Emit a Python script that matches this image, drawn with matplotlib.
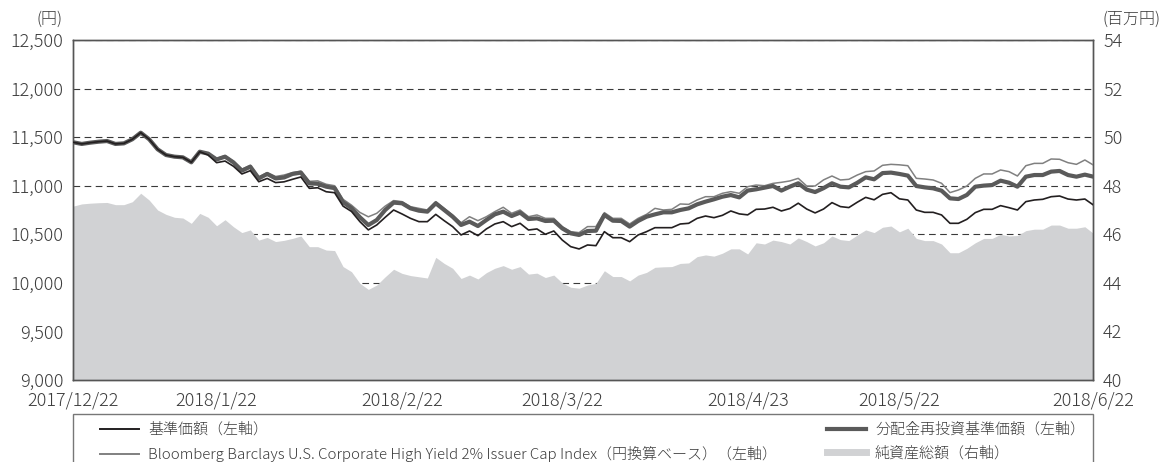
import numpy as np
import pandas as pd
import matplotlib
matplotlib.use("Agg")
import matplotlib.pyplot as plt
from matplotlib.lines import Line2D
from matplotlib.patches import Rectangle

plt.rcParams['font.family'] = ['Noto Sans CJK JP', 'DejaVu Sans']
plt.rcParams['font.weight'] = 'light'

# business days (Japan) from 2017/12/22 to 2018/6/22
jp_holidays = ['2018-01-01', '2018-01-02', '2018-01-03', '2018-01-08', '2018-02-12',
               '2018-03-21', '2018-04-30', '2018-05-03', '2018-05-04']
dates = pd.bdate_range('2017-12-22', '2018-06-22', freq='C', holidays=jp_holidays)
tick_dates = ['2017-12-22', '2018-01-22', '2018-02-22', '2018-03-22', '2018-04-23',
              '2018-05-22', '2018-06-22']

# 基準価額 (円)
nav = [11447, 11430, 11443, 11453, 11460, 11430, 11436, 11478, 11546, 11478,
       11375, 11316, 11299, 11292, 11241, 11350, 11316, 11237, 11254, 11200,
       11121, 11155, 11041, 11075, 11032, 11040, 11066, 11090, 10973, 10979,
       10938, 10928, 10790, 10735, 10630, 10545, 10596, 10675, 10750, 10709,
       10664, 10630, 10630, 10705, 10640, 10579, 10493, 10534, 10486, 10555,
       10606, 10630, 10579, 10613, 10544, 10555, 10500, 10534, 10441, 10373,
       10349, 10390, 10383, 10527, 10465, 10465, 10424, 10493, 10527, 10568,
       10568, 10568, 10606, 10613, 10664, 10688, 10671, 10695, 10740, 10710,
       10700, 10757, 10760, 10778, 10740, 10765, 10820, 10760, 10720, 10760,
       10826, 10785, 10775, 10830, 10880, 10855, 10911, 10928, 10865, 10853,
       10750, 10726, 10726, 10699, 10613, 10613, 10654, 10723, 10757, 10757,
       10795, 10774, 10750, 10836, 10853, 10860, 10887, 10894, 10863, 10853,
       10863, 10802]

# 分配金再投資基準価額 (円)
nav_reinv = [11447, 11430, 11443, 11453, 11460, 11430, 11436, 11478, 11546, 11478,
             11375, 11316, 11299, 11292, 11241, 11350, 11330, 11270, 11299, 11240,
             11155, 11196, 11075, 11121, 11075, 11085, 11121, 11135, 11024, 11020,
             10990, 10975, 10830, 10770, 10675, 10595, 10647, 10750, 10826, 10819,
             10767, 10743, 10733, 10819, 10750, 10681, 10596, 10630, 10585, 10647,
             10705, 10733, 10688, 10723, 10657, 10664, 10637, 10640, 10561, 10510,
             10493, 10534, 10537, 10699, 10640, 10637, 10579, 10637, 10681, 10705,
             10726, 10726, 10750, 10767, 10808, 10836, 10860, 10887, 10904, 10880,
             10950, 10963, 10980, 10997, 10950, 10990, 11025, 10960, 10935, 10975,
             11025, 10990, 10983, 11030, 11086, 11066, 11130, 11135, 11121, 11104,
             10997, 10983, 10973, 10949, 10870, 10863, 10905, 10990, 11001, 11007,
             11052, 11031, 10990, 11093, 11110, 11110, 11145, 11152, 11110, 11093,
             11114, 11093]

# Bloomberg Barclays index (円換算)
bench = [11447, 11430, 11443, 11453, 11460, 11430, 11436, 11478, 11546, 11478,
         11375, 11316, 11299, 11292, 11241, 11350, 11335, 11280, 11310, 11250,
         11170, 11210, 11090, 11135, 11095, 11110, 11135, 11150, 11045, 11050,
         11015, 11000, 10860, 10800, 10725, 10680, 10716, 10790, 10847, 10836,
         10784, 10767, 10750, 10836, 10767, 10699, 10619, 10681, 10640, 10681,
         10733, 10778, 10716, 10750, 10681, 10699, 10664, 10664, 10579, 10527,
         10517, 10579, 10579, 10723, 10664, 10664, 10606, 10664, 10705, 10767,
         10750, 10757, 10812, 10808, 10853, 10887, 10887, 10922, 10939, 10922,
         10990, 11007, 11000, 11024, 11035, 11049, 11076, 10997, 10997, 11060,
         11100, 11059, 11066, 11110, 11145, 11152, 11210, 11220, 11215, 11206,
         11076, 11069, 11059, 11025, 10929, 10956, 10997, 11076, 11121, 11121,
         11162, 11145, 11100, 11206, 11230, 11230, 11275, 11272, 11237, 11220,
         11265, 11213]

# 純資産総額 (百万円)
net_assets = [47.16, 47.25, 47.28, 47.30, 47.31, 47.22, 47.22, 47.34, 47.69, 47.41,
              47.00, 46.82, 46.70, 46.67, 46.45, 46.86, 46.70, 46.35, 46.60, 46.31,
              46.07, 46.18, 45.76, 45.87, 45.70, 45.75, 45.83, 45.93, 45.49, 45.49,
              45.35, 45.33, 44.67, 44.46, 43.98, 43.73, 43.91, 44.25, 44.56, 44.39,
              44.30, 44.25, 44.20, 45.05, 44.80, 44.60, 44.18, 44.32, 44.16, 44.42,
              44.60, 44.71, 44.56, 44.67, 44.36, 44.40, 44.22, 44.32, 44.00, 43.82,
              43.78, 43.91, 43.98, 44.50, 44.26, 44.26, 44.08, 44.32, 44.43, 44.64,
              44.66, 44.67, 44.80, 44.82, 45.08, 45.15, 45.10, 45.22, 45.40, 45.40,
              45.19, 45.65, 45.60, 45.76, 45.70, 45.60, 45.85, 45.70, 45.52, 45.65,
              45.93, 45.78, 45.74, 45.97, 46.18, 46.07, 46.29, 46.34, 46.10, 46.25,
              45.83, 45.74, 45.74, 45.60, 45.24, 45.24, 45.42, 45.65, 45.83, 45.83,
              46.00, 45.93, 45.95, 46.15, 46.21, 46.21, 46.38, 46.38, 46.25, 46.25,
              46.31, 46.04]

left_ticks = np.arange(9000, 12501, 500)
right_ticks = np.arange(40, 55, 2)

x = np.arange(len(dates))
text_color = '#3c3c3c'
spine_color = '#555555'

fig = plt.figure(figsize=(11.65, 4.62), dpi=100)
ax2 = fig.add_axes([73.3 / 1165, 1 - 380 / 462, 1020 / 1165, 340 / 462])
ax = ax2.twinx()
ax.yaxis.tick_left()
ax2.yaxis.tick_right()

# net assets (right axis) as the grey area behind everything
ax2.fill_between(x, net_assets, 40, color='#d1d2d4', lw=0, zorder=1)
ax2.set_ylim(40, 54)
ax2.set_yticks(right_ticks)
ax2.set_axisbelow(True)
ax2.yaxis.grid(True, color='#3a3a3a', lw=0.8, linestyle=(0, (6, 4)))

# lines on the left axis
ax.plot(x, bench, color='#808080', lw=1.1, zorder=3)
ax.plot(x, nav_reinv, color='#5a5a5a', lw=3.0, zorder=4)
ax.plot(x, nav, color='#231f20', lw=1.2, zorder=5)
ax.set_ylim(9000, 12500)
ax.set_yticks(left_ticks)
ax.set_yticklabels([f'{v:,}' for v in left_ticks])
ax.set_xlim(0, len(dates) - 1)

tick_pos = [dates.get_loc(pd.Timestamp(d)) for d in tick_dates]
ax2.set_xticks(tick_pos)
ax2.set_xticklabels([f'{pd.Timestamp(d).year}/{pd.Timestamp(d).month}/{pd.Timestamp(d).day}'
                     for d in tick_dates])
ax2.tick_params(axis='x', direction='in', length=7, width=0.8, color=spine_color,
                pad=8, labelsize=13, labelcolor=text_color)
ax2.tick_params(axis='y', length=0, pad=7, labelsize=13, labelcolor=text_color)
ax.tick_params(axis='y', length=0, pad=7, labelsize=13, labelcolor=text_color)

for a in (ax, ax2):
    for s in a.spines.values():
        s.set_color(spine_color)
        s.set_linewidth(1.0)

fig.text(49 / 1165, 1 - 19 / 462, '(円)', ha='center', va='center',
         fontsize=11.5, color=text_color)
fig.text(1131 / 1165, 1 - 19 / 462, '(百万円)', ha='center', va='center',
         fontsize=11.5, color=text_color)

# legend frame (bottom edge runs off the canvas)
fig.patches.append(Rectangle((73.3 / 1165, -0.05), 1020 / 1165, 0.05 + (462 - 414) / 462,
                             transform=fig.transFigure, fill=False,
                             edgecolor='#777777', lw=1.0))
handles = [
    Line2D([], [], color='#231f20', lw=1.4),
    Line2D([], [], color='#808080', lw=1.4),
    Line2D([], [], color='#5a5a5a', lw=3),
    Line2D([], [], color='#d1d2d4', lw=5),
]
labels = ['基準価額（左軸）',
          'Bloomberg Barclays U.S. Corporate High Yield 2% Issuer Cap Index（円換算ベース）（左軸）',
          '分配金再投資基準価額（左軸）',
          '純資産総額（右軸）']
leg = fig.legend(handles, labels, ncol=2, loc='upper left',
                 bbox_to_anchor=(100 / 1165, 1 - 427 / 462, 985 / 1165, 0.01),
                 mode='expand', frameon=False, borderpad=0, borderaxespad=0,
                 handlelength=2.6, handletextpad=0.6, labelspacing=0.6,
                 fontsize=10.8, labelcolor=text_color)

fig.savefig('out.png', dpi=100)
